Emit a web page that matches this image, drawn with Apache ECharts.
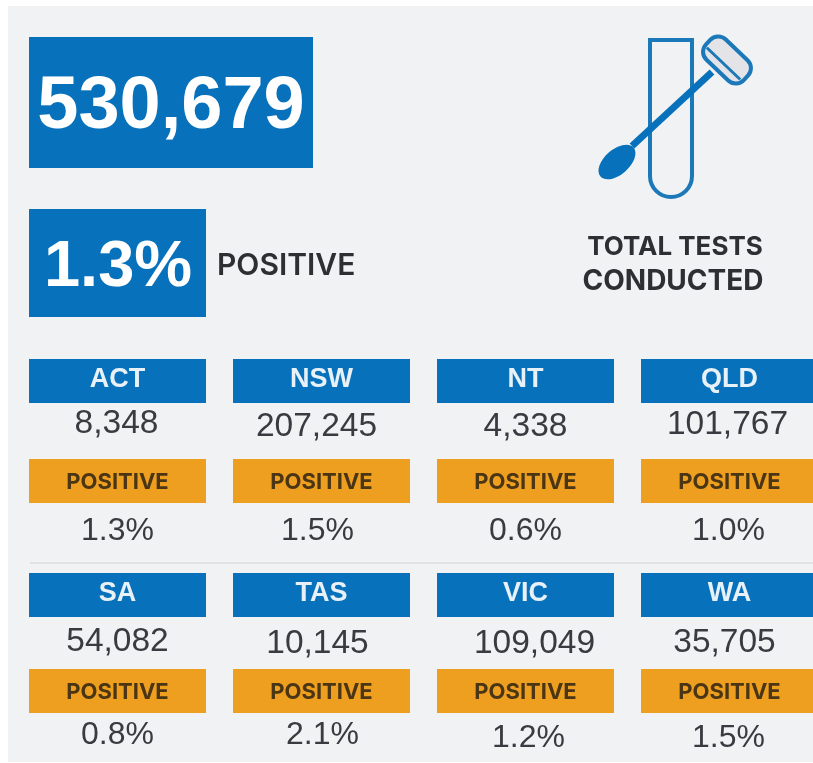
<!DOCTYPE html>
<html>
<head>
<meta charset="utf-8">
<title>Total tests conducted</title>
<script src="https://cdn.jsdelivr.net/npm/echarts@6/dist/echarts.min.js"></script>
<style>
html, body { margin: 0; padding: 0; background: #fff; }
#main { width: 813px; height: 763px; filter: blur(0.6px); }
</style>
</head>
<body>
<div id="main"></div>
<script>
var totalTests = "530,679";
var totalPositive = "1.3%";
var positiveLabel = "POSITIVE";
var iconTitle = ["TOTAL TESTS", "CONDUCTED"];

var states = ["ACT", "NSW", "NT", "QLD", "SA", "TAS", "VIC", "WA"];
var tests = ["8,348", "207,245", "4,338", "101,767", "54,082", "10,145", "109,049", "35,705"];
var positive = ["1.3%", "1.5%", "0.6%", "1.0%", "0.8%", "2.1%", "1.2%", "1.5%"];

var BLUE = "#0772bb";
var ORANGE = "#ee9f1f";
var NUM_FONT = '"Liberation Sans", Arial, sans-serif';
var LABEL_FONT = 'Inter, Roboto, sans-serif';

// y offsets inside a tile, measured from the row centre
var rowLayout = [
  { head: -93, value: -27, pos: 7, pct: 79 },
  { head: -93, value: -25, pos: 3, pct: 69 }
];
// the figures in the original sit a bit unevenly in their tiles
var testsShift = [[-1, -1], [-5, 2], [0, 2], [-2, 0], [0, 1], [-4, 3], [9, 3], [-5, 2]];
var pctShift = [[0, 0], [-4, 0], [0, 0], [-1, 0], [0, 0], [1, 0], [3, 3], [-1, 3]];

var tiles = states.map(function (s, i) {
  return [i % 4, i < 4 ? 0 : 1, i];
});

function renderTile(params, api) {
  var i = api.value(2);
  var c = api.coord([api.value(0), api.value(1)]);
  var l = rowLayout[api.value(1)];
  var w = 177;
  var x = c[0] - w / 2;
  return {
    type: "group",
    children: [
      { type: "rect", shape: { x: x, y: c[1] + l.head, width: w, height: 44 }, style: { fill: BLUE } },
      { type: "text", style: { text: states[i], x: c[0], y: c[1] + l.head + 21, fill: "#e9f1f8", font: "bold 27px " + NUM_FONT, textAlign: "center", textVerticalAlign: "middle" } },
      { type: "text", style: { text: tests[i], x: c[0] + testsShift[i][0], y: c[1] + l.value + testsShift[i][1], fill: "#3a3a40", font: "33.5px " + NUM_FONT, textAlign: "center", textVerticalAlign: "middle" } },
      { type: "rect", shape: { x: x, y: c[1] + l.pos, width: w, height: 44 }, style: { fill: ORANGE } },
      { type: "text", style: { text: positiveLabel, x: c[0], y: c[1] + l.pos + 23, fill: "#4a3514", font: "bold 22px " + LABEL_FONT, textAlign: "center", textVerticalAlign: "middle" } },
      { type: "text", style: { text: positive[i], x: c[0] + pctShift[i][0], y: c[1] + l.pct + pctShift[i][1], fill: "#3a3a40", font: "32px " + NUM_FONT, textAlign: "center", textVerticalAlign: "middle" } }
    ]
  };
}

var chart = echarts.init(document.getElementById("main"));
chart.setOption({
  animation: false,
  backgroundColor: "#fff",
  grid: { left: 15.5, top: 345, width: 816, height: 428, outerBoundsMode: "none" },
  xAxis: { type: "category", data: [0, 1, 2, 3], show: false },
  yAxis: { type: "category", data: [0, 1], inverse: true, show: false },
  series: [{
    type: "custom",
    coordinateSystem: "cartesian2d",
    clip: false,
    data: tiles,
    renderItem: renderTile
  }],
  graphic: [
    { type: "rect", z: -1, shape: { x: 8, y: 6, width: 805, height: 756 }, style: { fill: "#f1f2f3" } },
    { type: "rect", shape: { x: 29, y: 37, width: 284, height: 131 }, style: { fill: BLUE } },
    { type: "text", x: 171, y: 108, style: { text: totalTests, fill: "#fff", font: "bold 74px " + NUM_FONT, textAlign: "center", textVerticalAlign: "middle" } },
    { type: "rect", shape: { x: 29, y: 209, width: 177, height: 108 }, style: { fill: BLUE } },
    { type: "text", x: 118, y: 268, style: { text: totalPositive, fill: "#fff", font: "bold 65px " + NUM_FONT, textAlign: "center", textVerticalAlign: "middle" } },
    { type: "text", x: 217, y: 266, style: { text: positiveLabel, fill: "#2e2e33", font: "600 30px " + LABEL_FONT, textAlign: "left", textVerticalAlign: "middle" } },
    { type: "text", x: 675, y: 247, style: { text: iconTitle[0], fill: "#2e2e33", font: "bold 26px " + LABEL_FONT, textAlign: "center", textVerticalAlign: "middle" } },
    { type: "text", x: 673, y: 282, style: { text: iconTitle[1], fill: "#2e2e33", font: "bold 28px " + LABEL_FONT, textAlign: "center", textVerticalAlign: "middle" } },
    // divider between the two rows of states
    { type: "line", shape: { x1: 30, y1: 563, x2: 813, y2: 563 }, style: { stroke: "#dcdcdc", lineWidth: 1.5 } },
    // test tube
    { type: "polyline", shape: { points: [[650, 176], [650, 40], [692, 40], [692, 176]] }, style: { fill: "none", stroke: "#1b78b9", lineWidth: 4 } },
    { type: "arc", shape: { cx: 671, cy: 176, r: 21, startAngle: 0, endAngle: Math.PI, clockwise: true }, style: { fill: "none", stroke: "#1b78b9", lineWidth: 4 } },
    // swab
    { type: "line", shape: { x1: 632, y1: 146, x2: 712, y2: 72 }, style: { stroke: BLUE, lineWidth: 7 } },
    { type: "ellipse", x: 617, y: 162, rotation: 0.72, shape: { cx: 0, cy: 0, rx: 22, ry: 12.5 }, style: { fill: BLUE } },
    { type: "rect", x: 727, y: 60, rotation: -0.76, shape: { x: -26, y: -14, width: 52, height: 28, r: 11 }, style: { fill: "#e4e4e8", stroke: "#1b78b9", lineWidth: 4 } },
    { type: "line", x: 727, y: 60, rotation: -0.76, shape: { x1: -23, y1: 5, x2: 23, y2: 5 }, style: { stroke: "#1b78b9", lineWidth: 3 } }
  ]
});
</script>
</body>
</html>
